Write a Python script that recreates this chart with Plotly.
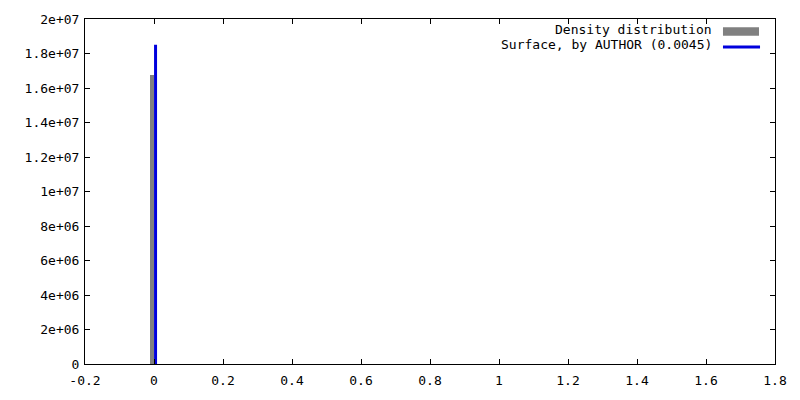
import plotly.graph_objects as go

# Data
hist_x = [-0.0055]
hist_width = [0.0125]
hist_y = [1.674e7]
surface_x = [0.0045, 0.0045]
surface_y = [0, 1.851e7]
legend_labels = ["Density distribution", "Surface, by AUTHOR (0.0045)"]
x_ticks = [-0.2, 0, 0.2, 0.4, 0.6, 0.8, 1, 1.2, 1.4, 1.6, 1.8]
x_ticklabels = ["-0.2", "0", "0.2", "0.4", "0.6", "0.8", "1", "1.2", "1.4", "1.6", "1.8"]
y_ticks = [0, 2e6, 4e6, 6e6, 8e6, 1e7, 1.2e7, 1.4e7, 1.6e7, 1.8e7, 2e7]
y_ticklabels = ["0", "2e+06", "4e+06", "6e+06", "8e+06", "1e+07", "1.2e+07", "1.4e+07", "1.6e+07", "1.8e+07", "2e+07"]

FONT = "DejaVu Sans Mono"
GRAY = "#808080"
BLUE = "#0000dd"

fig = go.Figure()
fig.add_trace(go.Bar(x=hist_x, y=hist_y, width=hist_width, marker=dict(color=GRAY, line=dict(width=0)),
                     name=legend_labels[0], showlegend=False))
fig.add_trace(go.Scatter(x=surface_x, y=surface_y, mode="lines", line=dict(color=BLUE, width=3),
                         name=legend_labels[1], showlegend=False))

axis_common = dict(showline=True, linecolor="black", linewidth=1, mirror="ticks", ticks="inside",
                   ticklen=5, tickcolor="black", showgrid=False, zeroline=False,
                   tickfont=dict(family=FONT, size=13, color="black"))
fig.update_xaxes(range=[-0.2, 1.8], tickvals=x_ticks, ticktext=x_ticklabels, ticklabelstandoff=4, **axis_common)
fig.update_yaxes(range=[0, 2e7], tickvals=y_ticks, ticktext=y_ticklabels, ticklabelstandoff=2, **axis_common)

# Manual gnuplot-style legend (text right-aligned, sample to the right)
fig.add_annotation(xref="paper", yref="paper", x=0.912, y=0.969, xanchor="right", yanchor="middle",
                   text=legend_labels[0], showarrow=False, font=dict(family=FONT, size=13, color="black"))
fig.add_annotation(xref="paper", yref="paper", x=0.912, y=0.926, xanchor="right", yanchor="middle",
                   text=legend_labels[1], showarrow=False, font=dict(family=FONT, size=13, color="black"))
fig.add_shape(type="rect", xref="paper", yref="paper", x0=0.9246, x1=0.9768, y0=0.9514, y1=0.9763,
              fillcolor=GRAY, line=dict(width=0))
fig.add_shape(type="line", xref="paper", yref="paper", x0=0.9246, x1=0.9783, y0=0.919, y1=0.919,
              line=dict(color=BLUE, width=3))

fig.update_layout(width=800, height=400, margin=dict(l=85, r=25, t=16, b=34),
                  plot_bgcolor="white", paper_bgcolor="white",
                  font=dict(family=FONT, size=13, color="black"), bargap=0)
fig.write_html("out.html", config={"displayModeBar": False},
               post_script="document.body.style.margin='0';document.body.style.overflow='hidden';")
